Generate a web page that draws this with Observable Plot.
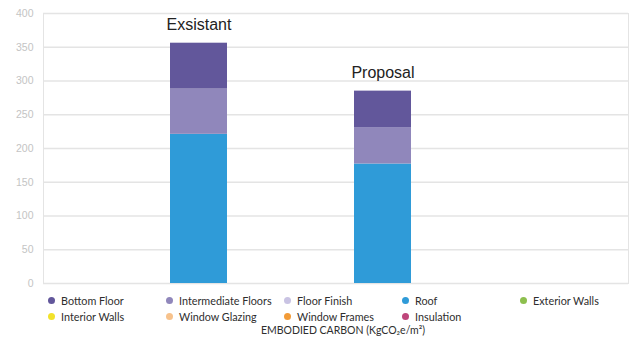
<!DOCTYPE html>
<html>
<head>
<meta charset="utf-8">
<script src="https://cdn.jsdelivr.net/npm/d3@7"></script>
<script src="https://cdn.jsdelivr.net/npm/@observablehq/plot@0.6"></script>
<style>
  html, body { margin: 0; padding: 0; background: #fff; }
  #wrap { width: 629px; height: 338px; position: relative; overflow: hidden; font-family: "Liberation Sans", Arial, sans-serif; }
  #legend { position: absolute; left: 48px; top: 294px; display: grid; grid-template-columns: repeat(5, 118px); row-gap: 4px; font-family: Lato, sans-serif; font-size: 10.8px; color: #2e2e2e; }
  .item { display: flex; align-items: center; height: 12px; white-space: nowrap; }
  .dot { width: 7px; height: 7px; border-radius: 50%; margin-right: 6px; flex: none; }
  #caption { position: absolute; left: 0; width: 686px; text-align: center; top: 324px; font-family: Lato, sans-serif; font-size: 10.5px; color: #2e2e2e; }
</style>
</head>
<body>
<div id="wrap">
  <div id="chart"></div>
  <div id="legend"></div>
  <div id="caption">EMBODIED CARBON (KgCO₂e/m²)</div>
</div>
<script>
const categories = ["Exsistant", "Proposal"];
const seriesNames = ["Bottom Floor", "Intermediate Floors", "Floor Finish", "Roof", "Exterior Walls",
                     "Interior Walls", "Window Glazing", "Window Frames", "Insulation"];
const roof = [221, 177];
const intermediateFloors = [67, 54];
const bottomFloor = [68, 54];
const yTicks = [0, 50, 100, 150, 200, 250, 300, 350, 400];
const palette = ["#62579b", "#9087bb", "#c9c3e3", "#2f9bd8", "#8dbf4e",
                 "#f2e22b", "#f7c28c", "#f29b37", "#bf467b"];

const rows = [];
categories.forEach((c, i) => {
  rows.push({category: c, series: "Roof", value: roof[i]});
  rows.push({category: c, series: "Intermediate Floors", value: intermediateFloors[i]});
  rows.push({category: c, series: "Bottom Floor", value: bottomFloor[i]});
});

const chart = Plot.plot({
  width: 629,
  height: 290,
  marginTop: 13,
  marginBottom: 7,
  marginLeft: 43,
  marginRight: 1,
  style: {fontFamily: "Liberation Sans, Arial, sans-serif", fontSize: "10.5px", background: "#fff"},
  x: {type: "band", domain: categories, paddingInner: 0.692, paddingOuter: 0.93, align: 0.369, axis: null},
  y: {domain: [0, 400], ticks: yTicks, grid: false, axis: null},
  color: {domain: seriesNames, range: palette},
  marks: [
    Plot.gridY(yTicks, {stroke: "#e4e4e4", strokeOpacity: 1, strokeWidth: 1.3}),
    Plot.frame({stroke: "#e4e4e4"}),
    Plot.axisY(yTicks, {tickSize: 0, tickPadding: 10, fill: "#c4c4c4", fontSize: 10.5, label: null}),
    Plot.barY(rows, {x: "category", y: "value", fill: "series", order: ["Roof", "Intermediate Floors", "Bottom Floor"], inset: 0}),
    Plot.text(rows, Plot.groupX({y: "sum", text: "first"}, {x: "category", y: "value", text: "category",
      dy: -18, fontSize: 16, fill: "#222", fontFamily: "Liberation Sans, Arial, sans-serif"}))
  ]
});
document.getElementById("chart").appendChild(chart);

const legend = document.getElementById("legend");
seriesNames.forEach((s, i) => {
  const item = document.createElement("div");
  item.className = "item";
  const dot = document.createElement("span");
  dot.className = "dot";
  dot.style.background = palette[i];
  const label = document.createElement("span");
  label.textContent = s;
  item.appendChild(dot);
  item.appendChild(label);
  legend.appendChild(item);
});
</script>
</body>
</html>
